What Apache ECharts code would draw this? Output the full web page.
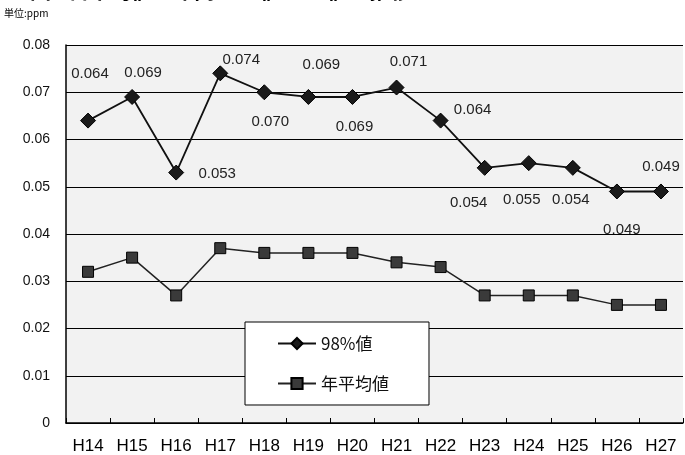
<!DOCTYPE html>
<html><head><meta charset="utf-8">
<script src="https://cdn.jsdelivr.net/npm/echarts@6/dist/echarts.min.js"></script>
<style>html,body{margin:0;padding:0;background:#fff}#c{width:685px;height:455px}</style>
</head><body><div id="c"></div>
<script>
const categories = ['H14','H15','H16','H17','H18','H19','H20','H21','H22','H23','H24','H25','H26','H27'];
const p98 = [0.064,0.069,0.053,0.074,0.070,0.069,0.069,0.071,0.064,0.054,0.055,0.054,0.049,0.049];
const annualMean = [0.032,0.035,0.027,0.037,0.036,0.036,0.036,0.034,0.033,0.027,0.027,0.027,0.025,0.025];
const yTicks = [0,0.01,0.02,0.03,0.04,0.05,0.06,0.07,0.08];
const labelOffsets = [[2,-47],[11,-24],[41,1],[21,-13],[6,30],[13,-32],[2,30],[12,-26],[32,-11],[-16,35],[-7,37],[-2,32],[5,38],[0,-25]];

const chart = echarts.init(document.getElementById('c'));
const font = '"Liberation Sans", Arial, "Noto Sans CJK JP", sans-serif';
chart.setOption({
  animation:false,
  backgroundColor:'#fff',
  textStyle:{fontFamily:font},
  graphic:[
    {type:'text', left:30, top:-20, style:{text:'図 - 日平均値の年間98%値 NO₂値の推移', font:'bold 21px "Noto Sans CJK JP", sans-serif', fill:'#000'}},
    {type:'text', left:4, top:8, style:{text:'単位:ppm', font:'10px "Noto Sans CJK JP", sans-serif', fill:'#000'}}
  ],
  grid:{left:66, right:2, top:45, bottom:31, show:true, backgroundColor:'#f2f2f2', borderWidth:0},
  legend:{
    orient:'vertical', left:245, top:322, padding:[13,40,13,32], itemGap:23,
    itemWidth:38, itemHeight:14, backgroundColor:'#fff', borderColor:'#000', borderWidth:1, borderRadius:0,
    textStyle:{fontSize:17, color:'#111', fontFamily:'"Noto Sans CJK JP", sans-serif'},
    data:['98%値','年平均値']
  },
  xAxis:{
    type:'category', data:categories, boundaryGap:true,
    axisLine:{lineStyle:{color:'#000', width:1.5}},
    axisTick:{show:true, inside:true, length:5, lineStyle:{color:'#000'}},
    axisLabel:{fontSize:17, color:'#000', margin:15, interval:0}
  },
  yAxis:{
    type:'value', min:0, max:0.08, interval:0.01,
    axisLine:{show:true, lineStyle:{color:'#000', width:1.5}},
    axisTick:{show:false},
    axisLabel:{fontSize:14, color:'#111', margin:16, formatter:v=>{const t=yTicks.find(x=>Math.abs(x-v)<1e-9); return t===0?'0':(t!==undefined?t.toFixed(2):v.toFixed(2));}},
    splitLine:{show:true, lineStyle:{color:'#000', width:1.2}}
  },
  series:[
    {
      name:'98%値', type:'line', data:p98.map((v,i)=>({value:v, label:{offset:labelOffsets[i]}})),
      symbol:'diamond', symbolSize:15,
      lineStyle:{color:'#111', width:1.8},
      itemStyle:{color:'#1a1a1a', borderColor:'#000', borderWidth:1},
      label:{show:true, position:'inside', fontSize:15, color:'#222', formatter:p=>p.value.toFixed(3)},
      z:3
    },
    {
      name:'年平均値', type:'line', data:annualMean,
      symbol:'rect', symbolSize:11,
      lineStyle:{color:'#222', width:1.5},
      itemStyle:{color:'#3a3a3a', borderColor:'#000', borderWidth:1},
      z:2
    }
  ]
});
</script></body></html>
